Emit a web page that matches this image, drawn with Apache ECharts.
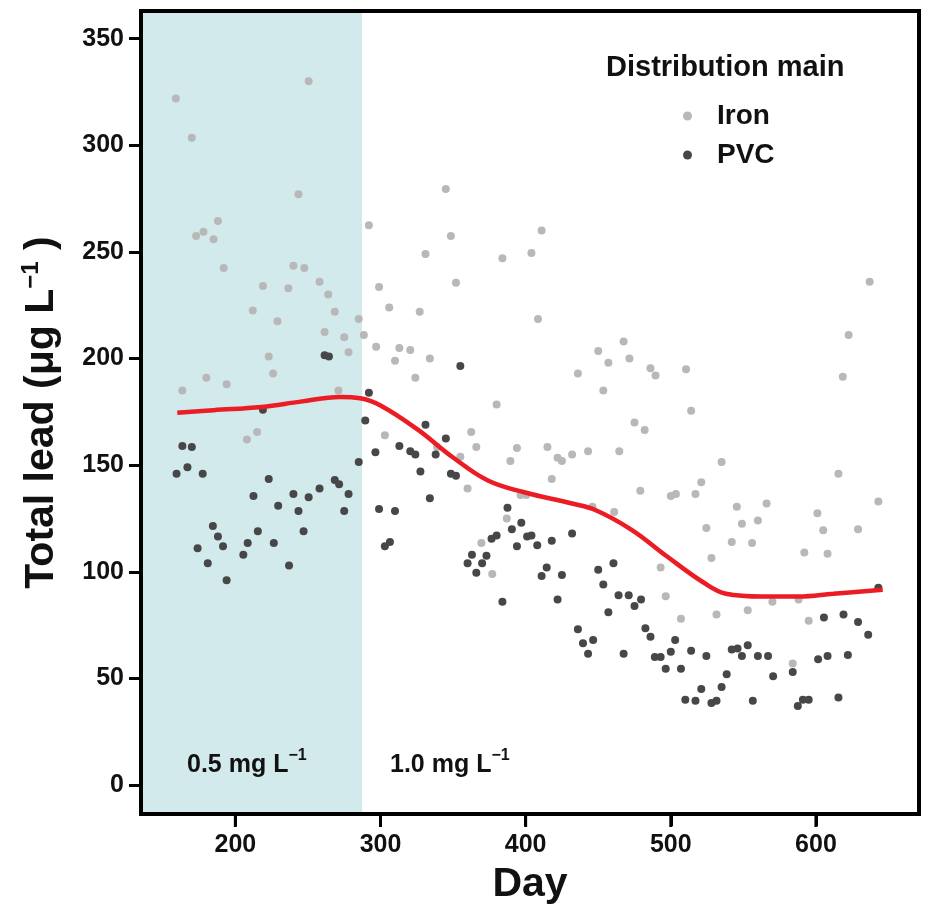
<!DOCTYPE html>
<html><head><meta charset="utf-8">
<script src="https://cdn.jsdelivr.net/npm/echarts@6/dist/echarts.min.js"></script>
<style>html,body{margin:0;padding:0;background:#fff}#c{width:934px;height:910px}</style>
</head><body><div id="c"></div>
<script>
const ironDays = [159,163.5,170,173,178,180,185,188,192,194,208,212,215,219,223,226,229,236.5,240,243.5,247.5,250.5,258,261.5,264,268.5,271,275,278,285,288.5,292,297,299,303,306,310,313,320.5,324,327,331,334,339,345,348.5,352,355,360,362.5,366,369.5,377,380,384,387,389.5,394,396.5,400.5,404,408.5,411,415,418,422,425,432,436,443,446,450,453.5,457,461,464.5,467.5,471.5,475,479,482,486,489.5,493,496.5,500,503.5,507,510.5,514,517,521,524.5,528,531.5,535,542,545.5,549,553,556,560,566,570,584,588,592,595,601,605,608,615.5,618.5,622.5,629,637,643];
const ironLead = [322,185,303.5,257.5,259.5,191,256,264.5,242.5,188,162,222.5,165.5,234,201,193,217.5,233,243.5,277,242.5,330,236,212.5,230,222,185,210,203,218.5,211,262.5,205.5,233.5,164,224,199,205,204,191,222,249,200,158.5,279.5,257.5,235.5,154,139,165.5,158.5,113.5,99,178.5,247,125,152,158,136,136,249.5,218.5,260,158.5,143.5,153.5,152,155,193,156.5,130.5,203.5,185,198,128,156.5,208,200,170,138,166.5,195.5,192,102,88.5,135.5,136.5,78,195,175.5,136.5,142,120.5,106.5,80,151.5,114,130.5,122.5,82,113.5,124,132,86,57,87,109,77,127.5,119.5,108.5,146,191.5,211,120,236,133];
const pvcDays = [159.5,163.5,167,170,174,177.5,181,184.5,188,191.5,194,205.5,208.5,212.5,215.5,219,223,226.5,229.5,237,240,243.5,247,250.5,258,261.5,264.5,268.5,271.5,275,278,285,289.5,292,296.5,299,303,306.5,310,313,320.5,324,327.5,331,334,338,345,348.5,352,355,360,363,366,370,373,376.5,380,384,387.5,390.5,394,397,401,404,408,411,414.5,418,422,425,432,436,439.5,443,446.5,450,453.5,457,460.5,464,467.5,471,475,479.5,482.5,486,489,493,496.5,500,503,507,510,514,517,521,524.5,528,531.5,535,538.5,542,546,549,553,556.5,560,567,570.5,584,587.5,591,595,601.5,605.5,608,615.5,619,622,629,636,643];
const pvcLead = [146,159,149,158.5,111,146,104,121.5,116.5,112,96,108,113.5,135.5,119,176,143.5,113.5,131,103,136.5,128.5,119,135,139,201.5,201,143,141,128.5,136.5,151.5,171,184,156,129.5,112,114,128.5,159,156.5,155,147,169,134.5,155,162.5,146,145,196.5,104,108,99.5,104,107.5,115.5,117,86,130,120,112,123,116.5,117,112.5,98,102,114.5,87,98.5,118,73,66.5,61.5,68,101,94,81,104,89,61.5,89,84,87,73.5,69.5,60,60,54.5,62.5,68,54.5,40,63,39.5,45,60.5,38.5,39.5,46,52,63.5,64,60.5,65.5,39.5,60.5,60.5,51,53,37,40,40,59,78.5,60.5,41,80,61,76.5,70.5,92.5];
const fitDays = [160,185,218,245,272,286,300,325,350,374,399,432,448,473,497,522,538,563,588,612,646];
const fitLead = [174.6,175.8,177.3,179.8,182,181.4,178,167,153.6,142.8,137.3,132,129,119.7,107.4,95.2,89.7,88.4,88.4,89.7,91.6];
const xTicks = [200,300,400,500,600];
const yTicks = [0,50,100,150,200,250,300,350];
const shadeRange = [135, 287.3];
const xRange = [135, 671];
const yRange = [-13.6, 363];

const zip = (a,b) => a.map((v,i)=>[v,b[i]]);
const FONT = '"Liberation Sans", Arial, Helvetica, sans-serif';
const chart = echarts.init(document.getElementById('c'));
const regionRich = {
  a:{fontFamily:FONT,fontWeight:'bold',fontSize:25,fill:'#111',lineHeight:34},
  s:{fontFamily:FONT,fontWeight:'bold',fontSize:16,fill:'#111',verticalAlign:'top',lineHeight:18}
};
chart.setOption({
  animation:false,
  backgroundColor:'#fff',
  grid:{left:141,right:15,top:11,bottom:95,show:true,borderColor:'#000',borderWidth:4,backgroundColor:'transparent',z:10},
  title:{text:'Distribution main',left:606,top:53,padding:0,textStyle:{fontFamily:FONT,fontWeight:'bold',fontSize:29,color:'#111'}},
  legend:{orient:'vertical',left:683,top:102,padding:0,itemGap:11,itemWidth:9,itemHeight:9,icon:'circle',
    data:['Iron','PVC'],
    textStyle:{fontFamily:FONT,fontWeight:'bold',fontSize:28,color:'#111',lineHeight:28,padding:[0,0,0,20]}},
  xAxis:{type:'value',min:xRange[0],max:xRange[1],
    axisLine:{show:true,onZero:false,lineStyle:{color:'#000',width:4}},splitLine:{show:false},
    axisTick:{show:true,length:12,lineStyle:{color:'#000',width:3},customValues:xTicks},
    axisLabel:{customValues:xTicks,fontFamily:FONT,fontWeight:'bold',fontSize:25,color:'#111',margin:19},
    name:'Day',nameLocation:'middle',nameGap:50,
    nameTextStyle:{fontFamily:FONT,fontWeight:'bold',fontSize:41,color:'#111'}},
  yAxis:{type:'value',min:yRange[0],max:yRange[1],
    axisLine:{show:true,onZero:false,lineStyle:{color:'#000',width:4}},splitLine:{show:false},
    axisTick:{show:true,length:12,lineStyle:{color:'#000',width:3},customValues:yTicks},
    axisLabel:{customValues:yTicks,fontFamily:FONT,fontWeight:'bold',fontSize:25,color:'#111',margin:17},
    name:'{a|Total lead (μg L}{s|−1}{a| )}',nameLocation:'middle',nameGap:76,nameRotate:90,
    nameTextStyle:{rich:{
      a:{fontFamily:FONT,fontWeight:'bold',fontSize:41,color:'#111',lineHeight:46},
      s:{fontFamily:FONT,fontWeight:'bold',fontSize:24,color:'#111',verticalAlign:'top',lineHeight:26}}}},
  graphic:[
    {type:'text',left:187,top:748,z:20,style:{text:'{a|0.5 mg L}{s|−1}',rich:regionRich}},
    {type:'text',left:390,top:748,z:20,style:{text:'{a|1.0 mg L}{s|−1}',rich:regionRich}}
  ],
  series:[
    {name:'shade',type:'scatter',data:[],z:1,silent:true,
      markArea:{silent:true,itemStyle:{color:'#d2eaec',opacity:1},data:[[{xAxis:shadeRange[0]},{xAxis:shadeRange[1]}]]}},
    {name:'Iron',type:'scatter',data:zip(ironDays,ironLead),symbolSize:8,itemStyle:{color:'#b8b8b8',opacity:1},z:3},
    {name:'PVC',type:'scatter',data:zip(pvcDays,pvcLead),symbolSize:8,itemStyle:{color:'#474747',opacity:1},z:4},
    {name:'fit',type:'line',data:zip(fitDays,fitLead),smooth:0.4,showSymbol:false,lineStyle:{color:'#ec1c24',width:4.5},z:5},
    {name:'xticks',type:'custom',silent:true,clip:false,zlevel:1,z:100,
      data:xTicks.map(v=>[v,yRange[0]]),
      encode:{x:0,y:1},
      renderItem:function(params, api){
        const p = api.coord([api.value(0), api.value(1)]);
        return {type:'rect',shape:{x:p[0]-1.5,y:p[1],width:3,height:13},style:{fill:'#000'}};
      }}
  ]
});
</script></body></html>
